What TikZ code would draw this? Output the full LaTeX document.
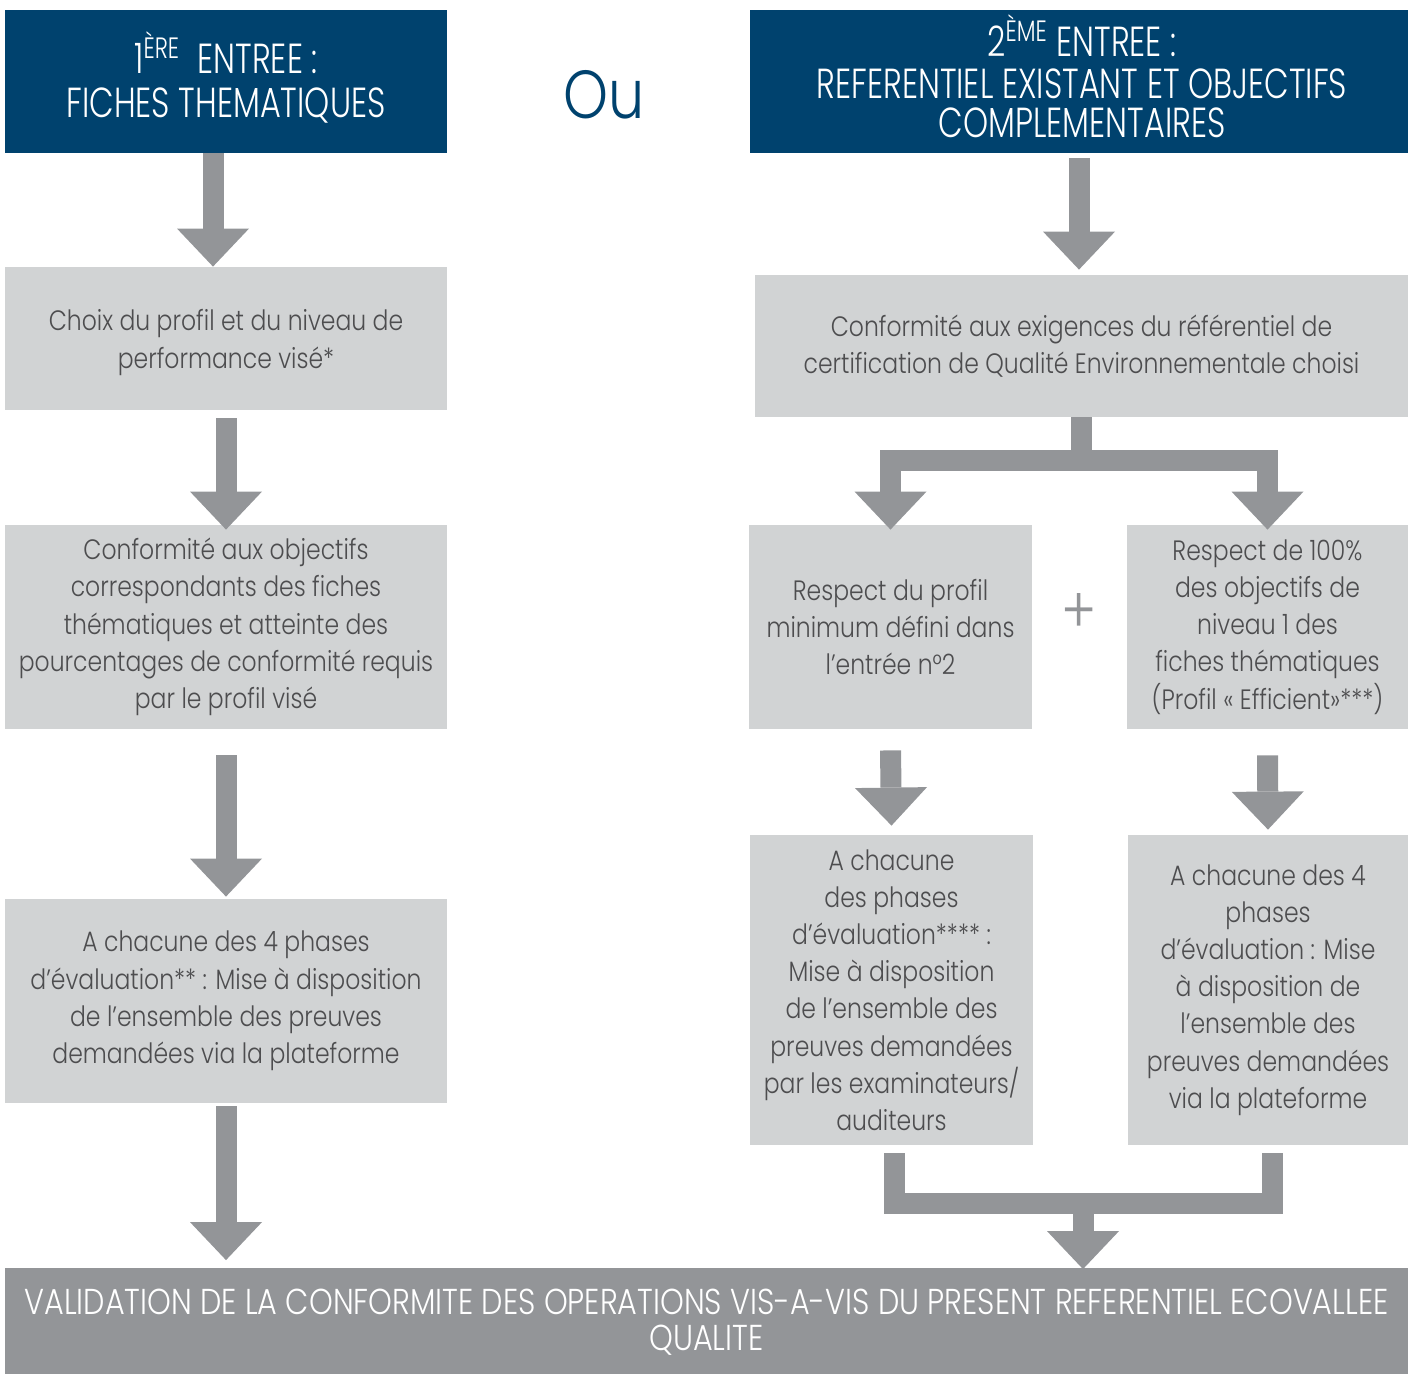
\documentclass[tikz,border=0pt]{standalone}
\usepackage{fontspec}
\usepackage{tikz}
\usetikzlibrary{arrows.meta}

\IfFontExistsTF{Poppins Light}{%
	\setmainfont[FakeStretch=0.84]{Poppins Light}
	\newfontfamily\headfont[FakeStretch=0.76]{Poppins Light}
}{%
	\setmainfont[FakeStretch=0.84]{Poppins}
	\newfontfamily\headfont[FakeStretch=0.76]{Poppins}
}

\definecolor{hdblue}{HTML}{00426E}
\definecolor{arrowgray}{HTML}{939598}
\definecolor{boxgray}{HTML}{D1D3D4}
\definecolor{txtgray}{HTML}{4D4D4F}

\begin{document}
\begin{tikzpicture}[x=0.5pt, y=-0.5pt,
	head/.style={fill=hdblue, inner sep=0pt, minimum height=71.5pt},
	headtext/.style={text=white, align=center, inner sep=0pt, font=\headfont\fontsize{21}{#1}\selectfont},
	box/.style={fill=boxgray, text=txtgray, align=center, inner sep=0pt,
		font=\fontsize{14}{18.6}\selectfont},
	flow/.style={draw=arrowgray, line width=10.5pt, line join=miter,
		-{Triangle[width=36pt, length=19pt, line width=0pt]}},
	flowline/.style={draw=arrowgray, line width=10.5pt, line join=miter}]
	\useasboundingbox (0,0) rectangle (1408,1374);

	% entries
	\node[head, minimum width=221pt] (head1) at (226,81.5) {};
	\node[headtext=22] (head1text) at (226,77)
		{1\textsuperscript{ÈRE}\ \ ENTREE :\\FICHES THEMATIQUES};
	\node[head, minimum width=329pt] (head2) at (1079,81.5) {};
	\node[headtext=19.5] (head2text) at (1082,76)
		{2\textsuperscript{ÈME} ENTREE :\\[1.5pt]REFERENTIEL EXISTANT ET OBJECTIFS\\COMPLEMENTAIRES};
	\node[text=hdblue, font=\fontsize{34}{34}\selectfont] (ou) at (604,95) {Ou};

	% left column
	\node[box, minimum width=221pt, minimum height=71.5pt] (choice) at (226,338.5)
		{\\[-4pt]Choix du profil et du niveau de\\performance visé*};
	\node[box, minimum width=221pt, minimum height=102pt] (goals) at (226,627)
		{Conformité aux objectifs\\correspondants des fiches\\thématiques et atteinte des\\pourcentages de conformité requis\\par le profil visé};
	\node[box, minimum width=221pt, minimum height=102pt] (phases) at (226,1001)
		{A chacune des 4 phases\\d’évaluation** : Mise à disposition\\de l’ensemble des preuves\\demandées via la plateforme};

	% right column
	\node[box, minimum width=326.5pt, minimum height=71pt] (cert) at (1081.5,346)
		{Conformité aux exigences du référentiel de\\certification de Qualité Environnementale choisi};
	\node[box, minimum width=141.5pt, minimum height=102pt] (respA) at (890.5,627)
		{Respect du profil\\minimum défini dans\\l’entrée n°2};
	\node[box, minimum width=140.5pt, minimum height=102pt] (respB) at (1267.5,627)
		{Respect de 100\%\\des objectifs de\\niveau 1 des\\fiches thématiques\\(Profil « Efficient»***)};
	\node[text=arrowgray, font=\fontsize{32}{32}\selectfont] (plus) at (1079,613) {+};
	\node[box, minimum width=141.5pt, minimum height=155pt] (phaseA) at (891.5,990)
		{A chacune\\des phases\\d’évaluation**** :\\Mise à disposition\\de l’ensemble des\\preuves demandées\\par les examinateurs/\\auditeurs};
	\node[box, minimum width=140pt, minimum height=155pt] (phaseB) at (1268,990)
		{A chacune des 4\\phases\\d’évaluation : Mise\\à disposition de\\l’ensemble des\\preuves demandées\\via la plateforme};

	\node[fill=arrowgray, text=white, align=center, inner sep=0pt,
		minimum width=701.5pt, minimum height=54.5pt,
		font=\fontsize{18}{18}\selectfont] (final) at (706.5,1322)
		{VALIDATION DE LA CONFORMITE DES OPERATIONS VIS-A-VIS DU PRESENT REFERENTIEL ECOVALLEE\\QUALITE};

	% arrows, left
	\draw[flow] ([xshift=-6.5pt]head1.south) -- ([xshift=-6.5pt]choice.north);
	\draw[flow] ([yshift=-4pt]choice.south) -- ([yshift=-2.5pt]goals.north);
	\draw[flow] ([yshift=-13pt]goals.south) -- ([yshift=1pt]phases.north);
	\draw[flow] ([yshift=-1.5pt]phases.south) -- ([yshift=3.5pt]phases.south |- final.north);

	% arrows, right
	\draw[flow] ([yshift=-2.5pt]head2.south) -- ([yshift=2.5pt]head2.south |- cert.north);
	\coordinate (split) at ([yshift=-21.5pt]cert.south);
	\draw[flow] (cert.south) -- (split) -| ([yshift=-2.5pt]respA.north);
	\draw[flow] (split) -| ([yshift=-2.5pt]respB.north);
	\draw[flow] ([yshift=-10.5pt]respA.south) -- ([yshift=4.5pt]phaseA.north);
	\draw[flow] ([yshift=-13pt]respB.south) -- ([yshift=2.5pt]phaseB.north);

	\coordinate (merge) at (1083,1203);
	\draw[flowline] ([xshift=1.5pt, yshift=-4pt]phaseA.south) |- (merge)
		-| ([xshift=2pt, yshift=-4pt]phaseB.south);
	\draw[flow] (merge) -- ([yshift=-1pt]merge |- final.north);
\end{tikzpicture}
\end{document}
